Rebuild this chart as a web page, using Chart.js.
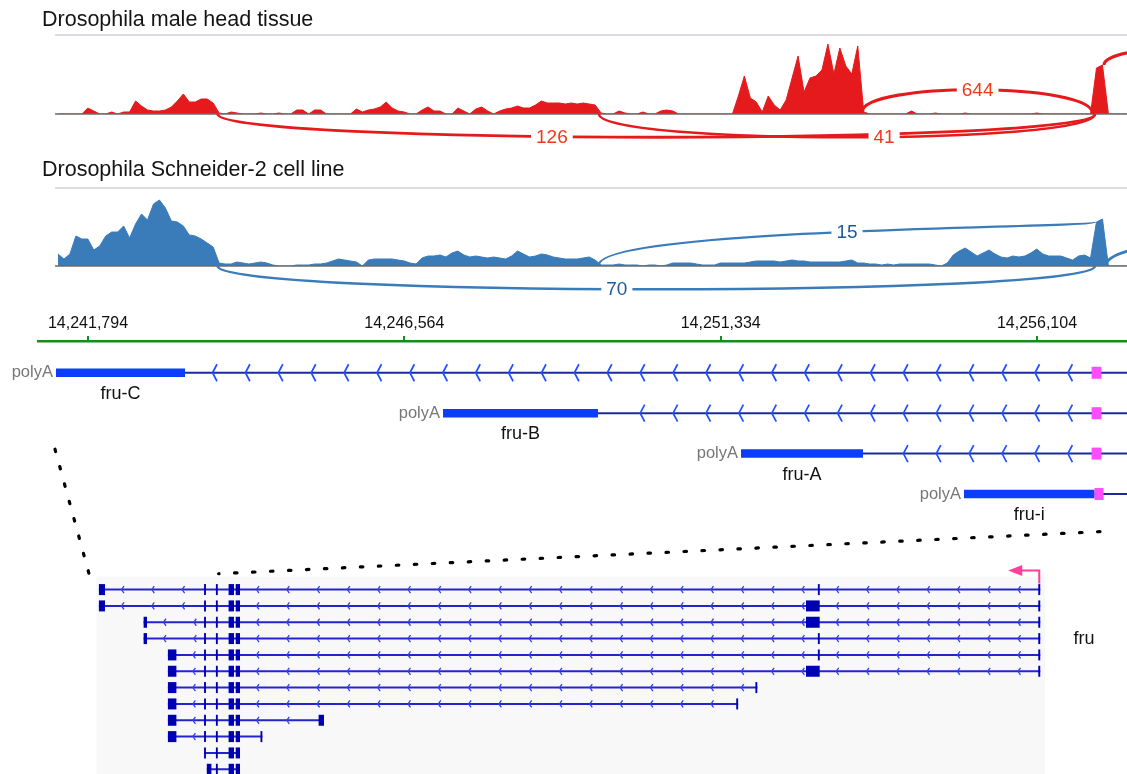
<!DOCTYPE html>
<html>
<head>
<meta charset="utf-8">
<title>fru locus sashimi plot</title>
<script src="https://cdn.jsdelivr.net/npm/chart.js@4.4.1/dist/chart.umd.min.js"></script>
<style>
  html, body { margin: 0; padding: 0; background: #fff; }
  #wrap { position: relative; width: 1127px; height: 774px; overflow: hidden; }
  #wrap canvas { position: absolute; left: 0; display: block; }
</style>
</head>
<body>
<div id="wrap">
  <canvas id="head" width="1127" height="150" style="top:0"></canvas>
  <canvas id="s2" width="1127" height="150" style="top:150px"></canvas>
  <canvas id="genes" width="1127" height="474" style="top:300px"></canvas>
</div>
<script>
// ---------------- data ----------------
// read coverage, binned (bin start + bin width in bp)
const covBinStart = 14241296;
const covBinSize = 90;

const headCoverage = [
  0,0,0,0,0,6,3,0,0,2,
  0,2,2,13,8,4,3,3,4,7,
  13,20,12,12,15,15,11,1,0,2,
  1,0,0,0,1,0,0,1,0,0,
  4,4,0,4,4,0,0,0,0,0,
  5,2,4,5,7,12,6,3,2,0,
  0,4,7,3,3,0,0,6,3,0,
  5,7,3,0,3,5,6,8,6,6,
  9,13,11,11,11,10,11,10,11,10,
  9,1,0,0,3,1,0,0,2,0,
  0,3,4,3,0,0,0,0,0,0,
  0,0,0,0,18,38,16,12,2,18,
  9,4,14,36,58,22,36,38,44,70,
  40,66,48,40,68,2,0,0,0,0,
  0,0,0,3,0,0,0,1,0,0,
  0,0,1,0,0,0,0,0,0,0,
  0,0,0,0,1,0,0,0,0,0,
  0,0,0,0,46,49,0,0,0,0
];

const s2Coverage = [
  12,7,12,30,27,27,16,20,30,34,
  34,40,28,42,52,46,62,66,58,45,
  44,40,31,30,27,23,19,3,2,2,
  4,3,2,3,4,3,1,0,0,0,
  1,1,1,2,2,3,5,7,6,5,
  4,0,6,7,7,7,7,6,5,3,
  2,8,10,10,11,9,13,15,11,9,
  10,9,8,9,8,7,10,15,12,9,
  10,12,11,9,8,7,7,7,8,9,
  6,1,1,1,2,1,1,1,0,1,
  1,0,1,3,3,3,3,2,1,1,
  1,3,3,3,3,3,4,5,5,5,
  5,4,5,6,5,5,4,4,4,4,
  4,4,5,6,3,3,2,2,1,2,
  1,2,2,2,2,2,2,1,0,3,
  11,15,18,14,10,13,16,12,9,8,
  10,9,10,13,17,12,10,10,10,8,
  6,10,11,8,44,47,0,0,0,0
];

// splice junctions (start, end, read count, side of the track)
const headJuncStart = [14243747, 14249499, 14253470, 14257114];
const headJuncEnd   = [14256979, 14256979, 14256948, 14262000];
const headJuncCount = [126, 41, 644, null];
const headJuncSide  = ['below', 'below', 'above', 'above'];

const s2JuncStart = [14249499, 14243747, 14257140];
const s2JuncEnd   = [14256979, 14256979, 14262000];
const s2JuncCount = [15, 70, null];
const s2JuncSide  = ['above', 'below', 'above'];

// ruler ticks
const axisTicks = [14241794, 14246564, 14251334, 14256104];

// 3' isoforms
const txNames       = ['fru-C', 'fru-B', 'fru-A', 'fru-i'];
const txTermStart   = [14241311, 14247147, 14251641, 14255003];
const txTermEnd     = [14243257, 14249484, 14253480, 14256971];
const txSharedStart = [14256927, 14256927, 14256927, 14256971];
const txSharedEnd   = [14257075, 14257075, 14257075, 14257108];
const txLineEnd     = [14262000, 14262000, 14262000, 14262000];

// full fru gene model
const modelWindow = [14242092, 14358283];
const modelExonStart = [14242386, 14247862, 14250839, 14255270, 14255604, 14256720, 14258274,
                        14259144, 14262180, 14269299, 14320460, 14322810, 14329006, 14330460, 14357460];
const modelExonEnd   = [14243133, 14248278, 14251880, 14255500, 14256167, 14256950, 14258936,
                        14259671, 14262410, 14269961, 14320690, 14323040, 14330684, 14330690, 14357700];
const modelRowExons = [
  [0, 3, 5, 6, 7, 13, 14],
  [0, 3, 5, 6, 7, 12, 14],
  [1, 3, 5, 6, 7, 12, 14],
  [1, 3, 5, 6, 7, 13, 14],
  [2, 3, 5, 6, 7, 13, 14],
  [2, 3, 5, 6, 7, 12, 14],
  [2, 3, 5, 6, 7, 11],
  [2, 3, 5, 6, 7, 10],
  [2, 3, 5, 6, 7, 9],
  [2, 3, 5, 6, 7, 8],
  [3, 5, 6, 7],
  [4, 5, 6, 7]
];
const modelGeneName = 'fru';

// genome positions joined between the close-up and the gene model
const zoomLinkBp = [14241296, 14257054];

// ---------------- view / style ----------------
const FONT = '"Liberation Sans", Arial, Helvetica, sans-serif';
Chart.defaults.font.family = FONT;

const VIEW_MAX = 14257461;
const TRACK_MIN = 14241296;
const AXIS_MIN = 14241040;
const MODEL_MIN = 14234926, MODEL_MAX = 14368328;

const RED = '#e41a1c', RED_LABEL = '#f2381c';
const BLUE = '#3a7cba', BLUE_LABEL = '#1d5a98';

function depthAt(cov, bp) {
  const i = Math.floor((bp - covBinStart) / covBinSize);
  return (i >= 0 && i < cov.length) ? cov[i] : 0;
}
const bz = (a, b, c, d, t) =>
  (1 - t) ** 3 * a + 3 * (1 - t) ** 2 * t * b + 3 * (1 - t) * t * t * c + t ** 3 * d;

// track frame: title, top rule and baseline
const trackFrame = {
  id: 'trackFrame',
  afterDatasetsDraw(chart, args, o) {
    const { ctx, chartArea: a } = chart;
    ctx.save();
    ctx.lineWidth = 1.5;
    ctx.strokeStyle = '#cfcfd6';
    ctx.beginPath(); ctx.moveTo(a.left, a.top); ctx.lineTo(a.right, a.top); ctx.stroke();
    ctx.strokeStyle = '#6b6b6b';
    ctx.beginPath(); ctx.moveTo(a.left, a.bottom); ctx.lineTo(a.right, a.bottom); ctx.stroke();
    ctx.fillStyle = '#141414';
    ctx.font = `21.5px ${FONT}`;
    ctx.textAlign = 'left';
    ctx.textBaseline = 'alphabetic';
    ctx.fillText(o.title, 42, 26);
    ctx.restore();
  }
};

// junction arcs with read-count labels
const sashimiArcs = {
  id: 'sashimiArcs',
  afterDatasetsDraw(chart, args, o) {
    const { ctx } = chart;
    const xs = chart.scales.x, ys = chart.scales.y;
    const base = ys.getPixelForValue(0);
    const labels = [];
    ctx.save();
    ctx.strokeStyle = o.color;
    o.starts.forEach((s, k) => {
      const e = o.ends[k], n = o.counts[k];
      const x0 = xs.getPixelForValue(s), x1 = xs.getPixelForValue(e);
      let y0, y1, yc;
      if (o.sides[k] === 'above') {
        y0 = ys.getPixelForValue(depthAt(o.coverage, s));
        y1 = ys.getPixelForValue(depthAt(o.coverage, e));
        yc = y0 - o.liftAbove;
      } else {
        y0 = y1 = base;
        yc = base + o.liftBelow;
      }
      ctx.lineWidth = n ? 1.5 + 0.6 * Math.log10(n) : 3;
      ctx.beginPath();
      ctx.moveTo(x0, y0);
      ctx.bezierCurveTo(x0, yc, x1, yc, x1, y1);
      ctx.stroke();
      if (n) {
        const t = o.labelT[k];
        labels.push({ x: bz(x0, x0, x1, x1, t), y: bz(y0, yc, yc, y1, t), text: String(n) });
      }
    });
    ctx.font = `19px ${FONT}`;
    ctx.textAlign = 'center';
    ctx.textBaseline = 'middle';
    labels.forEach(l => {
      const w = ctx.measureText(l.text).width + 10;
      ctx.fillStyle = '#fff';
      ctx.fillRect(l.x - w / 2, l.y - 9, w, 18);
      ctx.fillStyle = o.labelColor;
      ctx.fillText(l.text, l.x, l.y + 1);
    });
    ctx.restore();
  }
};

function makeTrack(id, cov, color, labelColor, title, junc, yMax, pad) {
  return new Chart(document.getElementById(id), {
    type: 'line',
    data: {
      datasets: [{
        // each value sits at the middle of its bin
        data: cov.map((v, i) => ({ x: covBinStart + (i + 0.5) * covBinSize, y: v })),
        fill: 'origin', tension: 0,
        backgroundColor: color, borderColor: color, borderWidth: 1,
        pointRadius: 0
      }]
    },
    options: {
      responsive: false, animation: false, events: [],
      layout: { padding: pad },
      scales: {
        x: { type: 'linear', display: false, min: TRACK_MIN, max: VIEW_MAX },
        y: { type: 'linear', display: false, min: 0, max: yMax }
      },
      plugins: {
        legend: { display: false }, tooltip: { enabled: false },
        trackFrame: { title },
        sashimiArcs: Object.assign({ coverage: cov, color, labelColor }, junc)
      }
    },
    plugins: [trackFrame, sashimiArcs]
  });
}

makeTrack('head', headCoverage, RED, RED_LABEL, 'Drosophila male head tissue', {
  starts: headJuncStart, ends: headJuncEnd, counts: headJuncCount, sides: headJuncSide,
  labelT: [0.42, 0.55, 0.5, 0.5], liftAbove: 30, liftBelow: 31
}, 79, { top: 35, bottom: 36, left: 55, right: 0 });

makeTrack('s2', s2Coverage, BLUE, BLUE_LABEL, 'Drosophila Schneider-2 cell line', {
  starts: s2JuncStart, ends: s2JuncEnd, counts: s2JuncCount, sides: s2JuncSide,
  labelT: [0.5, 0.47, 0.5], liftAbove: 37, liftBelow: 31
}, 78, { top: 38, bottom: 34, left: 55, right: 0 });

// ---------------- ruler, isoforms and gene model ----------------
const TX_LINE = '#1b2b9e', TX_BLOCK = '#0b3dfb', TX_SHARED = '#ff4cff', TX_CHEV = '#1f4fff';
const MODEL_LINE = '#2424cc', MODEL_EXON = '#0000b2', MODEL_CHEV = '#3341e0';
const TSS_PINK = '#ff3d9b';

function seg(x0, x1, y, xid, yid, color, w, order) {
  return {
    data: [{ x: x0, y }, { x: x1, y }], xAxisID: xid, yAxisID: yid,
    borderColor: color, borderWidth: w, pointRadius: 0, fill: false, order
  };
}

const geneSets = [];
txNames.forEach((name, i) => {
  geneSets.push(seg(txTermEnd[i], txLineEnd[i], i, 'x', 'yt', TX_LINE, 2, 3));
  geneSets.push(seg(txTermStart[i], txTermEnd[i], i, 'x', 'yt', TX_BLOCK, 8.5, 2));
  geneSets.push(seg(txSharedStart[i], txSharedEnd[i], i, 'x', 'yt', TX_SHARED, 12, 1));
});
modelRowExons.forEach((row, r) => {
  geneSets.push(seg(modelExonStart[row[0]], modelExonEnd[row[row.length - 1]], r, 'xm', 'ym', MODEL_LINE, 2, 3));
  row.forEach(k => geneSets.push(seg(modelExonStart[k], modelExonEnd[k], r, 'xm', 'ym', MODEL_EXON, 11, 2)));
});

const geneLayer = {
  id: 'geneLayer',
  beforeDatasetsDraw(chart, args, o) {
    const { ctx, chartArea: a, scales: { xm, ym } } = chart;
    const x0 = xm.getPixelForValue(modelWindow[0]), x1 = xm.getPixelForValue(modelWindow[1]);
    const y0 = ym.getPixelForValue(o.panelTopRow);
    ctx.save();
    ctx.fillStyle = '#f8f8f8';
    ctx.fillRect(x0, y0, x1 - x0, a.bottom - y0);
    ctx.restore();
  },
  afterDatasetsDraw(chart, args, o) {
    const { ctx, chartArea: a, scales: { x, xm, yt, ym } } = chart;
    ctx.save();

    // isoform chevrons on a shared grid, labels and polyA marks
    ctx.strokeStyle = TX_CHEV;
    ctx.lineWidth = 1.7;
    txNames.forEach((name, i) => {
      const y = yt.getPixelForValue(i);
      const gaps = [[txTermEnd[i], txSharedStart[i]], [txSharedEnd[i], txLineEnd[i]]];
      gaps.forEach(([s, e]) => {
        const ps = x.getPixelForValue(s) + 14, pe = Math.min(x.getPixelForValue(e) - 14, a.right - 3);
        for (let p = a.left + 174.5; p <= pe; p += 32.9) {
          if (p < ps) continue;
          ctx.beginPath();
          ctx.moveTo(p + 4.5, y - 8.5); ctx.lineTo(p, y); ctx.lineTo(p + 4.5, y + 8.5);
          ctx.stroke();
        }
      });
      const bx0 = x.getPixelForValue(txTermStart[i]), bx1 = x.getPixelForValue(txTermEnd[i]);
      ctx.textBaseline = 'middle';
      ctx.textAlign = 'right';
      ctx.fillStyle = '#777';
      ctx.font = `16.5px ${FONT}`;
      ctx.fillText('polyA', bx0 - 3, y);
      ctx.textAlign = 'center';
      ctx.fillStyle = '#111';
      ctx.font = `18px ${FONT}`;
      ctx.fillText(name, (bx0 + bx1) / 2, y + 21);
    });

    // gene model intron chevrons
    ctx.strokeStyle = MODEL_CHEV;
    ctx.lineWidth = 1.3;
    modelRowExons.forEach((row, r) => {
      const y = ym.getPixelForValue(r);
      for (let j = 0; j < row.length - 1; j++) {
        const s = xm.getPixelForValue(modelExonEnd[row[j]]);
        const e = xm.getPixelForValue(modelExonStart[row[j + 1]]);
        for (let p = s + 16.5; p < e - 4; p += 30.3) {
          ctx.beginPath();
          ctx.moveTo(p + 2.5, y - 3.5); ctx.lineTo(p, y); ctx.lineTo(p + 2.5, y + 3.5);
          ctx.stroke();
        }
      }
    });

    // transcription start arrow
    const tssK = modelRowExons[0][modelRowExons[0].length - 1];
    const tx = xm.getPixelForValue((modelExonStart[tssK] + modelExonEnd[tssK]) / 2);
    const ty = ym.getPixelForValue(0);
    ctx.strokeStyle = TSS_PINK; ctx.fillStyle = TSS_PINK; ctx.lineWidth = 2;
    ctx.beginPath();
    ctx.moveTo(tx, ty - 6); ctx.lineTo(tx, ty - 19); ctx.lineTo(tx - 18, ty - 19);
    ctx.stroke();
    ctx.beginPath();
    ctx.moveTo(tx - 31, ty - 19); ctx.lineTo(tx - 17, ty - 24.5); ctx.lineTo(tx - 17, ty - 13.5);
    ctx.closePath(); ctx.fill();

    // gene name
    ctx.fillStyle = '#111';
    ctx.font = `18px ${FONT}`;
    ctx.textAlign = 'left';
    ctx.textBaseline = 'middle';
    ctx.fillText(modelGeneName, xm.getPixelForValue(modelWindow[1]) + 28.5, ym.getPixelForValue(3));

    // dotted links from the close-up to the gene model
    ctx.strokeStyle = '#000';
    ctx.lineWidth = 3.2;
    ctx.lineCap = 'round';
    ctx.setLineDash([2.5, 15.5]);
    zoomLinkBp.forEach((bp, k) => {
      ctx.beginPath();
      ctx.moveTo(x.getPixelForValue(bp), yt.getPixelForValue(o.linkFromRow[k]));
      ctx.lineTo(xm.getPixelForValue(bp), ym.getPixelForValue(o.linkToRow[k]));
      ctx.stroke();
    });
    ctx.restore();
  }
};

new Chart(document.getElementById('genes'), {
  type: 'line',
  data: { datasets: geneSets },
  options: {
    responsive: false, animation: false, events: [],
    layout: { padding: { top: 10.8, left: 38, right: 0, bottom: 0 } },
    scales: {
      x: {
        type: 'linear', position: 'top', min: AXIS_MIN, max: VIEW_MAX,
        afterBuildTicks: s => { s.ticks = axisTicks.map(v => ({ value: v })); },
        ticks: {
          autoSkip: false, maxRotation: 0, color: '#111', padding: 3,
          font: { size: 16 },
          callback: v => Number(v).toLocaleString('en-US')
        },
        grid: { display: true, drawOnChartArea: false, drawTicks: true, tickLength: 5, color: '#1a8c1a', lineWidth: 2 },
        border: { display: true, color: '#1a8c1a', width: 2.5 }
      },
      xm: { type: 'linear', position: 'bottom', display: false, min: MODEL_MIN, max: MODEL_MAX },
      yt: { type: 'linear', position: 'left', display: false, reverse: true, min: -0.786, max: 9.926 },
      ym: { type: 'linear', position: 'left', display: false, reverse: true, min: -15.216, max: 11.289 }
    },
    plugins: {
      legend: { display: false }, tooltip: { enabled: false },
      geneLayer: { panelTopRow: -0.8, linkFromRow: [1.89, 3.93], linkToRow: [-0.75, -0.97] }
    }
  },
  plugins: [geneLayer]
});
</script>
</body>
</html>
